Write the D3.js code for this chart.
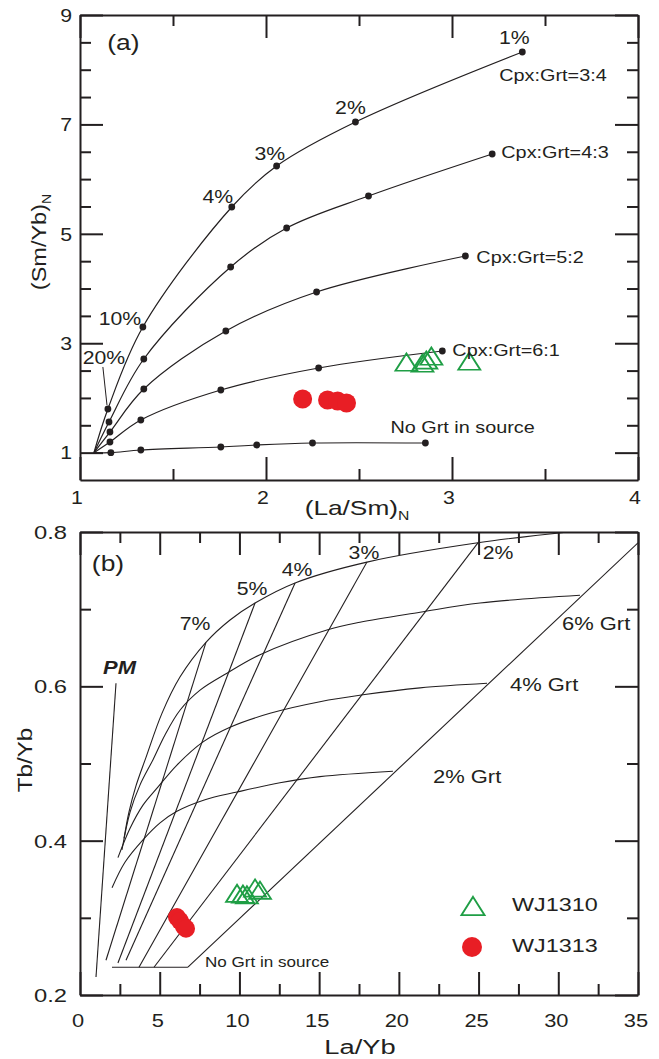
<!DOCTYPE html>
<html><head><meta charset="utf-8">
<script src="https://cdn.jsdelivr.net/npm/d3@7"></script>
<style>body{margin:0;background:#fff}</style>
</head><body>
<svg id="c" width="659" height="1059"></svg>
<script>
// ---------------- DATA : panel (a) (La/Sm)N vs (Sm/Yb)N ----------------
const meltOriginA = [1.075, 1.0];
const cpx34 = [[1.150,1.798],[1.338,3.297],[1.816,5.490],[2.057,6.240],[2.481,7.044],[3.378,8.324]];
const cpx43 = [[1.156,1.560],[1.343,2.712],[1.810,4.394],[2.111,5.106],[2.551,5.691],[3.216,6.459]];
const cpx52 = [[1.161,1.377],[1.343,2.163],[1.784,3.224],[2.272,3.937],[3.072,4.595]];
const cpx61 = [[1.161,1.195],[1.327,1.597],[1.757,2.145],[2.283,2.547],[2.948,2.858]];
const noGrtA = [[1.166,1.0],[1.327,1.048],[1.757,1.103],[1.950,1.140],[2.250,1.176],[2.857,1.176]];
const curveNamesA = ["Cpx:Grt=3:4","Cpx:Grt=4:3","Cpx:Grt=5:2","Cpx:Grt=6:1","No Grt in source"];

const wj1310_LaSm = [2.755, 2.841, 2.862, 2.889, 3.093];
const wj1310_SmYb = [2.602, 2.584, 2.639, 2.712, 2.620];
const wj1313_LaSm = [2.197, 2.331, 2.385, 2.433];
const wj1313_SmYb = [1.981, 1.962, 1.944, 1.908];

const xTicksA = [1, 2, 3, 4];
const xMinorA = [1.5, 2.5, 3.5];
const yTicksA = [1, 3, 5, 7, 9];
const yMinorA = [1.5, 2, 2.5, 3.5, 4, 4.5, 5.5, 6, 6.5, 7.5, 8, 8.5];

// ---------------- DATA : panel (b) La/Yb vs Tb/Yb ----------------
const grtTop = [[2.76,0.403],[3.07,0.437],[3.51,0.471],[4.14,0.508],[5.14,0.565],[6.27,0.612],[7.90,0.657],[9.41,0.686],[10.98,0.708],[13.49,0.734],[18.00,0.761],[24.96,0.786],[31.05,0.801]];
const grt6 = [[2.63,0.388],[3.14,0.437],[3.76,0.472],[4.58,0.505],[5.33,0.537],[6.27,0.569],[7.53,0.595],[9.22,0.617],[11.29,0.641],[15.49,0.673],[17.56,0.683],[21.33,0.696],[25.09,0.708],[31.36,0.718]];
const grt4 = [[2.38,0.378],[3.14,0.416],[3.95,0.446],[4.83,0.468],[6.08,0.498],[7.72,0.528],[9.41,0.547],[11.92,0.565],[15.05,0.580],[17.75,0.589],[21.33,0.598],[25.53,0.604]];
const grt2 = [[2.01,0.339],[2.82,0.372],[3.95,0.401],[5.02,0.423],[6.08,0.438],[7.84,0.453],[9.85,0.463],[12.54,0.475],[15.05,0.483],[19.63,0.490]];
const melt1 = [[6.77,0.236],[35.0,0.786]];
const melt2 = [[4.64,0.236],[24.96,0.786]];
const melt3 = [[3.70,0.236],[18.00,0.761]];
const melt4 = [[2.885,0.245],[13.49,0.734]];
const melt5 = [[2.38,0.2415],[10.98,0.708]];
const melt7 = [[1.63,0.245],[7.90,0.657]];
const noGrtB = [[2.007,0.236],[6.77,0.236]];
const pmLine = [[1.004,0.2233],[2.258,0.604]];

const wj1310_LaYb = [9.85, 10.22, 10.47, 10.98, 11.29];
const wj1310_TbYb = [0.328, 0.327, 0.326, 0.335, 0.332];
const wj1313_LaYb = [6.08, 6.27, 6.52, 6.65];
const wj1313_TbYb = [0.301, 0.296, 0.289, 0.286];

const xTicksB = [0, 5, 10, 15, 20, 25, 30, 35];
const xMinorB = [2.5, 7.5, 12.5, 17.5, 22.5, 27.5, 32.5];
const yTicksB = [0.2, 0.4, 0.6, 0.8];
const yMinorB = [0.3, 0.5, 0.7];

const legendNames = ["WJ1310", "WJ1313"];

// ---------------- RENDER ----------------
const FONT = '"Liberation Sans", Arial, Helvetica, sans-serif';
const INK = '#231f20', GREEN = '#1f9e45', RED = '#e81e25';
const svg = d3.select('#c');

function label(g, x, y, s, o = {}) {
  const size = o.size || 18, sx = o.sx || 1.2, anchor = o.anchor || 'middle', rot = o.rot || 0;
  const t = g.append('text')
    .attr('transform', `translate(${x},${y}) rotate(${rot}) scale(${sx},1)`)
    .attr('text-anchor', anchor)
    .attr('font-family', FONT).attr('font-size', size)
    .attr('font-weight', o.weight || 'normal').attr('font-style', o.style || 'normal')
    .attr('fill', INK);
  const main = t.append('tspan').attr('dy', (0.36 * size).toFixed(2)).text(s);
  if (o.sub) t.append('tspan').attr('font-size', size * 0.6).attr('dy', size * 0.28).text(o.sub);
  return t;
}

function frame(g, x, y, xMaj, xMin, yMaj, yMin) {
  const [x0, x1] = x.range(), [y0, y1] = y.range();
  const style = sel => sel.selectAll('line,path').attr('stroke', INK).attr('stroke-width', 2);
  const add = (axisFn, sc, vals, len, tr, keepDomain) => {
    const a = g.append('g').attr('transform', tr)
      .call(axisFn(sc).tickValues(vals).tickSize(-len).tickSizeOuter(0).tickFormat(''));
    if (!keepDomain) a.select('.domain').remove();
    style(a);
  };
  add(d3.axisBottom, x, xMaj, 23, `translate(0,${y0})`, true);
  add(d3.axisBottom, x, xMin, 11, `translate(0,${y0})`, false);
  add(d3.axisTop, x, xMaj, 23, `translate(0,${y1})`, true);
  add(d3.axisTop, x, xMin, 11, `translate(0,${y1})`, false);
  add(d3.axisLeft, y, yMaj, 23, `translate(${x0},0)`, true);
  add(d3.axisLeft, y, yMin, 11, `translate(${x0},0)`, false);
  add(d3.axisRight, y, yMaj, 23, `translate(${x1},0)`, true);
  add(d3.axisRight, y, yMin, 11, `translate(${x1},0)`, false);
}

// ---------- Panel (a) ----------
const xA = d3.scaleLinear().domain([1, 4]).range([80, 638]);
const yA = d3.scaleLinear().domain([0.5, 9]).range([480, 15]);
const gA = svg.append('g');
svg.append('clipPath').attr('id', 'clipA').append('rect').attr('x', 80).attr('y', 15).attr('width', 558).attr('height', 465);

const lineA = d3.line().x(d => xA(d[0])).y(d => yA(d[1])).curve(d3.curveCatmullRom.alpha(0.5));
const curvesA = [cpx34, cpx43, cpx52, cpx61, noGrtA];
const gc = gA.append('g').attr('clip-path', 'url(#clipA)');
curvesA.forEach(c => {
  gc.append('path').attr('d', lineA([meltOriginA, ...c])).attr('fill', 'none').attr('stroke', INK).attr('stroke-width', 1.2);
  gc.selectAll(null).data(c).join('circle').attr('cx', d => xA(d[0])).attr('cy', d => yA(d[1])).attr('r', 3.4).attr('fill', INK);
});
// 20% leader
const leader20 = [[1.123, 2.566], [1.145, 1.871]];
gc.append('path').attr('d', d3.line().x(d => xA(d[0])).y(d => yA(d[1]))(leader20)).attr('stroke', INK).attr('stroke-width', 1);

// samples
gA.selectAll(null).data(wj1313_LaSm).join('circle')
  .attr('cx', (d, i) => xA(d)).attr('cy', (d, i) => yA(wj1313_SmYb[i])).attr('r', 9.5).attr('fill', RED);
const tri = d3.symbol().type(d3.symbolTriangle).size(190);
gA.selectAll(null).data(wj1310_LaSm).join('path').attr('d', tri)
  .attr('transform', (d, i) => `translate(${xA(d)},${yA(wj1310_SmYb[i])}) scale(1.05,0.95)`)
  .attr('fill', 'none').attr('stroke', GREEN).attr('stroke-width', 1.8);

frame(gA, xA, yA, xTicksA, xMinorA, yTicksA, yMinorA);

// annotations (a)
const annA = [
  { t: '1%', x: 3.335, y: 8.58 }, { t: '2%', x: 2.454, y: 7.318 }, { t: '3%', x: 2.020, y: 6.477 },
  { t: '4%', x: 1.741, y: 5.673 }, { t: '10%', x: 1.215, y: 3.461 }, { t: '20%', x: 1.129, y: 2.730 }
];
annA.forEach(a => label(gA, xA(a.x), yA(a.y), a.t, { size: 18, sx: 1.18 }));
const namePosA = [[3.254, 7.903], [3.265, 6.496], [3.131, 4.576], [3.002, 2.876], [2.669, 1.469]];
curveNamesA.forEach((n, i) => label(gA, xA(namePosA[i][0]), yA(namePosA[i][1]), n, { size: 16, sx: 1.24, anchor: 'start' }));
label(gA, xA(1.233), yA(8.506), '(a)', { size: 22, sx: 1.2 });

xTicksA.forEach(v => label(gA, xA(v) - 3, 497, String(v), { size: 19, sx: 1.12 }));
yTicksA.forEach(v => label(gA, 72, yA(v), String(v), { size: 19, sx: 1.12, anchor: 'end' }));
label(gA, 357, 507, '(La/Sm)', { size: 21, sx: 1.25, sub: 'N' });
label(gA, 38, 242, '(Sm/Yb)', { size: 21, sx: 1.12, rot: -90, sub: 'N' });

// ---------- Panel (b) ----------
const xB = d3.scaleLinear().domain([0, 35]).range([80, 638]);
const yB = d3.scaleLinear().domain([0.2, 0.8]).range([995, 532]);
const gB = svg.append('g');
svg.append('clipPath').attr('id', 'clipB').append('rect').attr('x', 80).attr('y', 532).attr('width', 558).attr('height', 463);
const gbc = gB.append('g').attr('clip-path', 'url(#clipB)');
const lineBc = d3.line().x(d => xB(d[0])).y(d => yB(d[1])).curve(d3.curveCatmullRom.alpha(0.5));
const lineBs = d3.line().x(d => xB(d[0])).y(d => yB(d[1]));
[grtTop, grt6, grt4, grt2].forEach(c => gbc.append('path').attr('d', lineBc(c)).attr('fill', 'none').attr('stroke', INK).attr('stroke-width', 1.1));
[melt1, melt2, melt3, melt4, melt5, melt7, noGrtB, pmLine].forEach(c => gbc.append('path').attr('d', lineBs(c)).attr('fill', 'none').attr('stroke', INK).attr('stroke-width', 1.1));

gB.selectAll(null).data(wj1313_LaYb).join('circle')
  .attr('cx', d => xB(d)).attr('cy', (d, i) => yB(wj1313_TbYb[i])).attr('r', 9).attr('fill', RED);
gB.selectAll(null).data(wj1310_LaYb).join('path').attr('d', tri)
  .attr('transform', (d, i) => `translate(${xB(d)},${yB(wj1310_TbYb[i])}) scale(1.05,0.95)`)
  .attr('fill', 'none').attr('stroke', GREEN).attr('stroke-width', 1.8);

frame(gB, xB, yB, xTicksB, xMinorB, yTicksB, yMinorB);

const annB = [
  { t: '7%', x: 7.213, y: 0.681 }, { t: '5%', x: 10.79, y: 0.727 }, { t: '4%', x: 13.61, y: 0.751 },
  { t: '3%', x: 17.81, y: 0.773 }, { t: '2%', x: 26.22, y: 0.773 }
];
annB.forEach(a => label(gB, xB(a.x), yB(a.y), a.t, { size: 18, sx: 1.18 }));
const grtLabels = [{ t: '6% Grt', x: 30.23, y: 0.682 }, { t: '4% Grt', x: 26.97, y: 0.602 }, { t: '2% Grt', x: 22.14, y: 0.4825 }];
grtLabels.forEach(a => label(gB, xB(a.x), yB(a.y), a.t, { size: 18, sx: 1.22, anchor: 'start' }));
label(gB, xB(1.443), yB(0.625), 'PM', { size: 18, sx: 1.22, anchor: 'start', weight: 'bold', style: 'italic' });
label(gB, xB(7.84), yB(0.243), 'No Grt in source', { size: 14, sx: 1.22, anchor: 'start' });
label(gB, xB(1.756), yB(0.760), '(b)', { size: 22, sx: 1.2 });

xTicksB.forEach(v => label(gB, xB(v) - 2, 1020, String(v), { size: 19, sx: 1.15 }));
yTicksB.forEach(v => label(gB, 67, yB(v), d3.format('.1f')(v), { size: 19, sx: 1.25, anchor: 'end' }));
label(gB, 360, 1046, 'La/Yb', { size: 21, sx: 1.3 });
label(gB, 24, 760, 'Tb/Yb', { size: 21, sx: 1.15, rot: -90 });

// legend
const leg = gB.append('g');
leg.append('path').attr('d', tri).attr('transform', 'translate(473,909) scale(1.1,1)')
  .attr('fill', 'none').attr('stroke', GREEN).attr('stroke-width', 1.8);
leg.append('circle').attr('cx', 472).attr('cy', 947).attr('r', 10).attr('fill', RED);
legendNames.forEach((n, i) => label(leg, 512, 905 + i * 41, n, { size: 18, sx: 1.3, anchor: 'start' }));
</script>
</body></html>
